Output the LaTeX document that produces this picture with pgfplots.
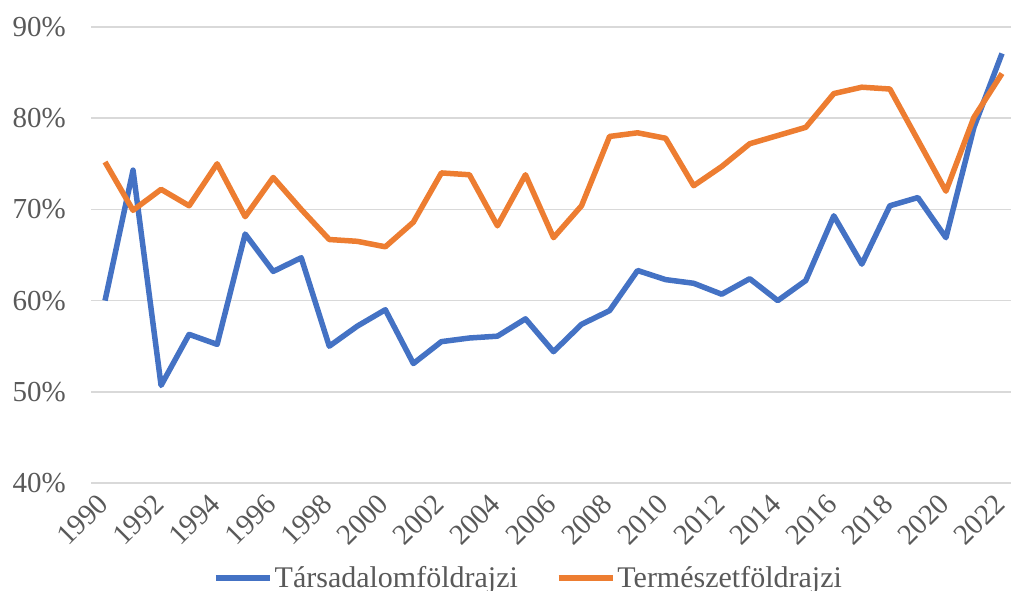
\documentclass[border=0pt]{standalone}
\usepackage{fontspec}
\setmainfont{Liberation Serif}
\usepackage{graphicx}
\usepackage{pgfplots}
\pgfplotsset{compat=1.18}
\definecolor{cblue}{RGB}{68,114,196}
\definecolor{corange}{RGB}{237,125,49}
\definecolor{cgrid}{RGB}{217,217,217}
\definecolor{ctext}{RGB}{89,89,89}
\begin{document}
\begin{tikzpicture}
\path[use as bounding box] (0pt,0pt) rectangle (1011pt,590pt);
\begin{axis}[
  at={(91pt,107pt)}, anchor=south west,
  scale only axis, width=925pt, height=456pt,
  xmin=1989.5, xmax=2022.5,
  ymin=40, ymax=90,
  xtick={1990,1992,...,2022},
  ytick={40,50,...,90},
  /pgf/number format/assume math mode=true,
  /pgf/number format/1000 sep={},
  yticklabel={\pgfmathprintnumber{\tick}\%},
  xticklabel={\rotatebox{45}{\pgfmathprintnumber{\tick}}},
  axis line style={draw=none},
  major tick length=0pt,
  ymajorgrids, grid style={cgrid, line width=1.5pt},
  tick label style={font=\fontsize{29}{33}\selectfont, text=ctext},
  yticklabel style={anchor=east, inner sep=0pt, xshift=-25pt},
  x tick label style={anchor=north east, inner sep=0pt, xshift=5pt, yshift=-9pt},
  legend style={at={(0.473,-0.208)}, anchor=center, draw=none, legend columns=2,
    font=\fontsize{30}{34}\selectfont, text=ctext, nodes={inner sep=2pt},
    /tikz/every even column/.append style={column sep=36pt}},
  legend image code/.code={\draw[#1, line width=5.5pt] (0pt,0pt) -- (54pt,0pt);},
  clip=false,
]
\addplot[cblue, line width=5.5pt, line join=round] coordinates {
(1990,60.0)(1991,74.3)(1992,50.7)(1993,56.3)(1994,55.2)(1995,67.3)(1996,63.2)(1997,64.7)
(1998,55.0)(1999,57.2)(2000,59.0)(2001,53.1)(2002,55.5)(2003,55.9)(2004,56.1)(2005,58.0)
(2006,54.4)(2007,57.4)(2008,58.9)(2009,63.3)(2010,62.3)(2011,61.9)(2012,60.7)(2013,62.4)
(2014,60.0)(2015,62.2)(2016,69.3)(2017,64.0)(2018,70.4)(2019,71.3)(2020,66.9)(2021,79.0)
(2022,87.1)};
\addlegendentry{Társadalomföldrajzi}
\addplot[corange, line width=5.5pt, line join=round] coordinates {
(1990,75.2)(1991,69.9)(1992,72.2)(1993,70.4)(1994,75.0)(1995,69.2)(1996,73.5)(1997,70.0)
(1998,66.7)(1999,66.5)(2000,65.9)(2001,68.6)(2002,74.0)(2003,73.8)(2004,68.2)(2005,73.8)
(2006,66.9)(2007,70.4)(2008,78.0)(2009,78.4)(2010,77.8)(2011,72.6)(2012,74.7)(2013,77.2)
(2014,78.1)(2015,79.0)(2016,82.7)(2017,83.4)(2018,83.2)(2019,77.6)(2020,72.0)(2021,80.1)
(2022,84.9)};
\addlegendentry{Természetföldrajzi}
\end{axis}
\end{tikzpicture}
\end{document}
